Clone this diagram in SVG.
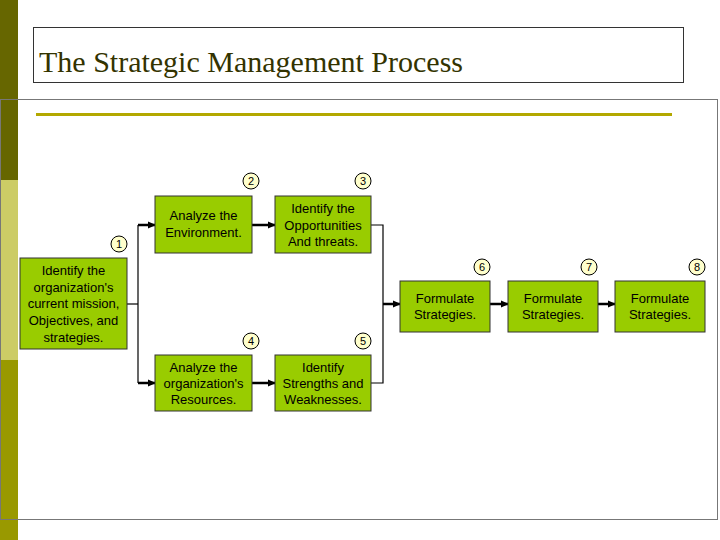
<svg xmlns="http://www.w3.org/2000/svg" width="720" height="540" viewBox="0 0 720 540">
<defs>
<marker id="ah" markerWidth="8" markerHeight="8" refX="7" refY="4" orient="auto" markerUnits="userSpaceOnUse"><path d="M0,0.5 L8,4 L0,7.5 z" fill="#000"/></marker>
<style>
.box{fill:#99cc00;stroke:#333;stroke-width:1}
.t{font-family:"Liberation Sans",Arial,sans-serif;font-size:13px;fill:#000;text-anchor:middle}
.c{fill:#ffffcc;stroke:#000;stroke-width:1}
.n{font-family:"Liberation Sans",Arial,sans-serif;font-size:11px;fill:#000;text-anchor:middle}
.ln{fill:none;stroke:#000;stroke-width:1.2}
.ar{fill:none;stroke:#000;stroke-width:2.5;marker-end:url(#ah)}
</style>
</defs>
<rect width="720" height="540" fill="#fff"/>
<rect x="0" y="0" width="18" height="180" fill="#666600"/>
<rect x="0" y="180" width="18" height="180" fill="#cccc66"/>
<rect x="0" y="360" width="18" height="180" fill="#999900"/>
<rect x="0.5" y="99.5" width="717" height="420" fill="none" stroke="#777" stroke-width="1"/>
<rect x="18" y="100" width="699" height="419" fill="#fff"/>
<rect x="33.5" y="27.5" width="650" height="55" fill="#fff" stroke="#333" stroke-width="1"/>
<text x="39" y="72" font-family="Liberation Serif,'Times New Roman',serif" font-size="30" fill="#333300">The Strategic Management Process</text>
<line x1="36" y1="114.5" x2="672" y2="114.5" stroke="#b3a800" stroke-width="3"/>
<g id="connectors">
<polyline class="ln" points="127,304 138,304"/>
<polyline class="ln" points="138,225 138,383"/>
<line class="ar" x1="138" y1="225" x2="155" y2="225"/>
<line class="ar" x1="138" y1="383" x2="155" y2="383"/>
<line class="ar" x1="252" y1="225" x2="275" y2="225"/>
<line class="ar" x1="252" y1="383" x2="275" y2="383"/>
<polyline class="ln" points="371,225 383,225 383,383 371,383"/>
<line class="ar" x1="383" y1="304" x2="400" y2="304"/>
<line class="ar" x1="490" y1="304" x2="508" y2="304"/>
<line class="ar" x1="598" y1="304" x2="615" y2="304"/>
</g>
<g id="n1"><rect class="box" x="20" y="258" width="107" height="91"/>
<text class="t" x="73.5" y="275">Identify the</text><text class="t" x="73.5" y="292">organization's</text><text class="t" x="73.5" y="308">current mission,</text><text class="t" x="73.5" y="325">Objectives, and</text><text class="t" x="73.5" y="342">strategies.</text>
<circle class="c" cx="119" cy="244" r="8"/><text class="n" x="119" y="248">1</text></g>
<g id="n2"><rect class="box" x="155" y="196" width="97" height="57"/>
<text class="t" x="203.5" y="220">Analyze the</text><text class="t" x="203.5" y="237">Environment.</text>
<circle class="c" cx="251" cy="181" r="8"/><text class="n" x="251" y="185">2</text></g>
<g id="n3"><rect class="box" x="275" y="196" width="96" height="57"/>
<text class="t" x="323" y="213">Identify the</text><text class="t" x="323" y="230">Opportunities</text><text class="t" x="323" y="246">And threats.</text>
<circle class="c" cx="363" cy="181" r="8"/><text class="n" x="363" y="185">3</text></g>
<g id="n4"><rect class="box" x="155" y="355" width="97" height="56"/>
<text class="t" x="203.5" y="372">Analyze the</text><text class="t" x="203.5" y="388">organization's</text><text class="t" x="203.5" y="404">Resources.</text>
<circle class="c" cx="251" cy="341" r="8"/><text class="n" x="251" y="345">4</text></g>
<g id="n5"><rect class="box" x="275" y="355" width="96" height="56"/>
<text class="t" x="323" y="372">Identify</text><text class="t" x="323" y="388">Strengths and</text><text class="t" x="323" y="404">Weaknesses.</text>
<circle class="c" cx="363" cy="341" r="8"/><text class="n" x="363" y="345">5</text></g>
<g id="n6"><rect class="box" x="400" y="281" width="90" height="51"/>
<text class="t" x="445" y="303">Formulate</text><text class="t" x="445" y="319">Strategies.</text>
<circle class="c" cx="482" cy="267" r="8"/><text class="n" x="482" y="271">6</text></g>
<g id="n7"><rect class="box" x="508" y="281" width="90" height="51"/>
<text class="t" x="553" y="303">Formulate</text><text class="t" x="553" y="319">Strategies.</text>
<circle class="c" cx="589" cy="267" r="8"/><text class="n" x="589" y="271">7</text></g>
<g id="n8"><rect class="box" x="615" y="281" width="90" height="51"/>
<text class="t" x="660" y="303">Formulate</text><text class="t" x="660" y="319">Strategies.</text>
<circle class="c" cx="697" cy="267" r="8"/><text class="n" x="697" y="271">8</text></g>
</svg>
